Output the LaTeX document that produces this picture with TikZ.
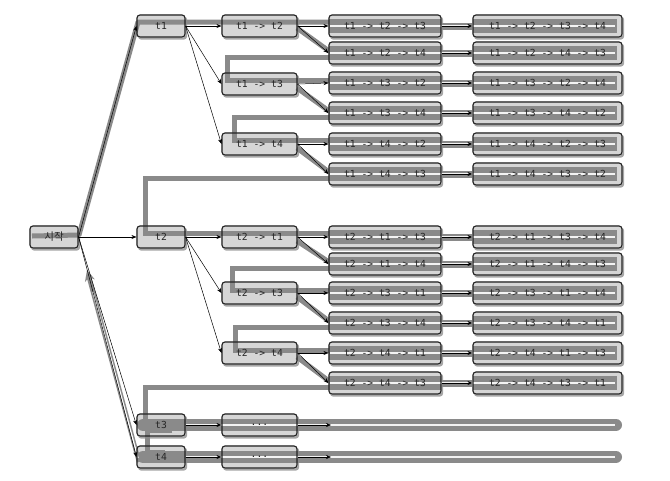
\documentclass[tikz,border=0pt]{standalone}
\usepackage{fontspec}
\setmonofont{DejaVu Sans Mono}
\newfontfamily\krfont{Noto Sans CJK KR}
\usetikzlibrary{arrows.meta,shadows}
\pgfdeclarelayer{bg}\pgfdeclarelayer{band}\pgfdeclarelayer{top}\pgfdeclarelayer{arr}
\pgfsetlayers{bg,band,top,main,arr}
\definecolor{boxfill}{HTML}{D6D6D6}
\definecolor{bandgray}{HTML}{8A8A8A}
\definecolor{edgecol}{HTML}{232323}
\definecolor{txtcol}{HTML}{262626}
\tikzset{
 box/.style={draw=edgecol, line width=1.1pt, rounded corners=3pt, minimum height=22pt, inner sep=0pt, text=txtcol, font=\ttfamily\fontsize{9.7}{11}\selectfont},
 lone/.style={box, minimum width=48pt},
 ltwo/.style={box, minimum width=75pt},
 lthree/.style={box, minimum width=112pt},
 lfour/.style={box, minimum width=149pt},
 boxbg/.style={fill=boxfill, rounded corners=3pt, drop shadow={shadow xshift=1.5pt, shadow yshift=-2pt, opacity=0.35, fill=black}},
 snake/.style={draw=bandgray, line width=5pt, line join=miter},
 tarrow/.style={draw=black, line width=0.5pt, -{Stealth[length=5pt,width=4pt]}},
 wline/.style={draw=white, line width=1.4pt, opacity=0.9},
}
\begin{document}
\begin{tikzpicture}[x=1pt,y=-1pt]
\useasboundingbox (0,0) rectangle (670,480);
% level 0/1
\node[lone, font=\krfont\fontsize{10.5}{12}\selectfont] (s) at (54,237) {시작};
\node[lone] (t1) at (161,26) {t1};
\node[lone] (t2) at (161,237) {t2};
\node[lone] (t3) at (161,425) {t3};
\node[lone] (t4) at (161,457) {t4};
% level 2
\node[ltwo] (t12) at (259.5,26) {t1 -> t2};
\node[ltwo] (t13) at (259.5,84) {t1 -> t3};
\node[ltwo] (t14) at (259.5,144) {t1 -> t4};
\node[ltwo] (t21) at (259.5,237) {t2 -> t1};
\node[ltwo] (t23) at (259.5,293) {t2 -> t3};
\node[ltwo] (t24) at (259.5,353) {t2 -> t4};
\node[ltwo] (t3x) at (259.5,425) {...};
\node[ltwo] (t4x) at (259.5,457) {...};
\coordinate (e3) at (331,425);
\coordinate (e4) at (331,457);
% level 3 and 4
\foreach \nm/\yy/\pa/\pb/\pc/\pd in {123/26/1/2/3/4, 124/53/1/2/4/3, 132/83/1/3/2/4, 134/113/1/3/4/2, 142/144/1/4/2/3, 143/174/1/4/3/2, 213/237/2/1/3/4, 214/264/2/1/4/3, 231/293/2/3/1/4, 234/323/2/3/4/1, 241/353/2/4/1/3, 243/383/2/4/3/1} {
  \node[lthree] (p\nm) at (385,\yy) {t\pa{} -> t\pb{} -> t\pc};
  \node[lfour] (q\nm) at (547.5,\yy) {t\pa{} -> t\pb{} -> t\pc{} -> t\pd};
}
% fills and shadows
\begin{pgfonlayer}{bg}
\foreach \n in {s,t1,t2,t3,t4,t12,t13,t14,t21,t23,t24,t3x,t4x,p123,p124,p132,p134,p142,p143,p213,p214,p231,p234,p241,p243,q123,q124,q132,q134,q142,q143,q213,q214,q231,q234,q241,q243}
  \fill[boxbg] (\n.south west) rectangle (\n.north east);
\end{pgfonlayer}
% highlight bands
\begin{pgfonlayer}{band}
\foreach \nm in {123,124,132,134,142,143,213,214,231,234,241,243} {
  \draw[bandgray, line width=14pt] ([xshift=1pt]p\nm.west) -- ([xshift=-1pt]p\nm.east);
  \draw[bandgray, line width=7pt] (p\nm.east) -- (q\nm.west);
  \draw[bandgray, line width=14pt] ([xshift=1pt]q\nm.west) -- ([xshift=-6pt]q\nm.east);
}
\draw[snake, line join=round] (32,236) -- (79,235) -- (138,22) -- (329,22);
\draw[snake] (297,28) -- (329,51);
\draw[snake] (329,57) -- (227,57) -- (227,80) -- (329,80);
\draw[snake] (297,88) -- (329,111);
\draw[snake] (329,117) -- (234,117) -- (234,140) -- (329,140);
\draw[snake] (297,148) -- (329,172);
\draw[snake] (329,178) -- (145,178) -- (145,233) -- (329,233);
\draw[snake] (297,241) -- (329,262);
\draw[snake] (329,268) -- (232,268) -- (232,290) -- (329,290);
\draw[snake] (297,297) -- (329,321);
\draw[snake] (329,327) -- (235,327) -- (235,350) -- (329,350);
\draw[snake] (297,357) -- (329,381);
\draw[snake] (329,387) -- (145,387) -- (145,421) -- (165,421);
\draw[snake] (172,430) -- (147,430) -- (147,452) -- (165,452);
\draw[bandgray, line width=12pt, line cap=round] (143,425) -- (616,425);
\draw[bandgray, line width=12pt, line cap=round] (143,457) -- (616,457);
\draw[bandgray, line width=4.5pt, -{Stealth[length=11pt,width=10pt]}] (139,462) -- (87,270);
\draw[white, line width=1.3pt] (138,458) -- (93,292);
\end{pgfonlayer}
% white centre lines
\begin{pgfonlayer}{top}
\foreach \nm in {123,124,132,134,142,143,213,214,231,234,241,243}
  \draw[wline] ([xshift=2pt]p\nm.west) -- ([xshift=-8pt]q\nm.east);
\draw[wline] (t3.east) -- (615,425);
\draw[wline] (t4.east) -- (615,457);
\end{pgfonlayer}
% tree arrows
\begin{pgfonlayer}{arr}
\foreach \a/\b in {s/t1,s/t2,s/t3,s/t4,t1/t12,t1/t13,t1/t14,t2/t21,t2/t23,t2/t24,t3/t3x,t4/t4x,
  t12/p123,t12/p124,t13/p132,t13/p134,t14/p142,t14/p143,t21/p213,t21/p214,t23/p231,t23/p234,t24/p241,t24/p243}
  \draw[tarrow] (\a.east) -- (\b.west);
\foreach \nm in {123,124,132,134,142,143,213,214,231,234,241,243}
  \draw[tarrow] (p\nm.east) -- (q\nm.west);
\draw[tarrow] (t3x.east) -- (e3);
\draw[tarrow] (t4x.east) -- (e4);
\end{pgfonlayer}
\end{tikzpicture}
\end{document}
